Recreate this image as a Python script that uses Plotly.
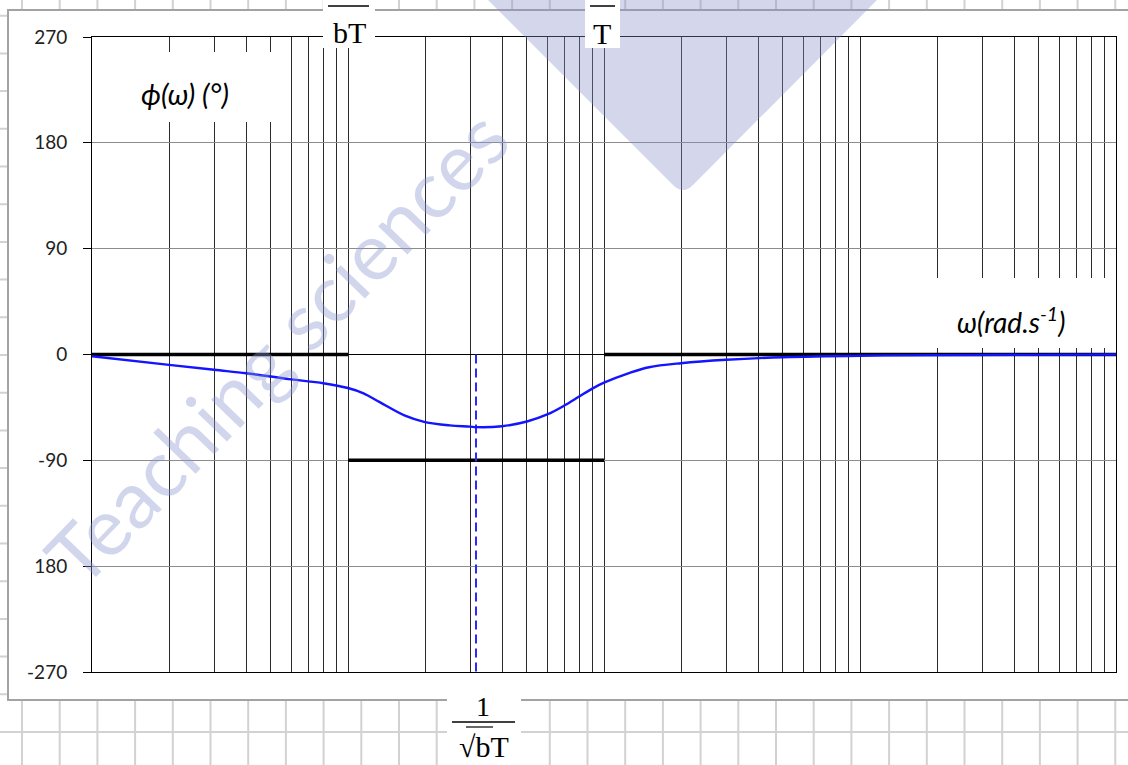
import math
import plotly.graph_objects as go

# Phase response of the correction network, read at selected pulsations (rad/s)
omega = [1, 2, 3, 4, 5, 6, 8, 10, 11.5, 13.3, 16.7, 20, 25, 30, 31.6, 40, 50, 60, 70, 80, 90,
         100, 126, 150, 200, 300, 500, 1000, 2000, 10000]
phase = [-1.5, -8.8, -13, -15.9, -18.7, -21.2, -24.4, -28.5, -33, -40.5, -52, -57.5, -60.3,
         -61.3, -61.8, -61, -57, -51, -43.4, -35.7, -29, -24, -15.6, -10.8, -7.4, -4.5, -2.3,
         -1, -0.5, 0]

# Break pulsations 1/bT and 1/T, and the asymptotic phase on each band
omega_bT = 10
omega_T = 100
asym_x = [1, omega_bT, None, omega_bT, omega_T, None, omega_T, 10000]
asym_y = [0, 0, None, -90, -90, None, 0, 0]
omega_m = math.sqrt(omega_bT * omega_T)

phase_ticks = [-270, -180, -90, 0, 90, 180, 270]
phase_labels = ["-270", "180", "-90", "0", "90", "180", "270"]

log_grid = [m * 10 ** k for k in range(4) for m in range(1, 10)] + [10000]

W, H = 1128, 765
L, R, T, B = 92, 12, 37, 93


def fx(px):
    return (px - L) / (W - L - R)


def fy(py):
    return (H - B - py) / (H - T - B)


fig = go.Figure()

fig.add_trace(go.Scatter(x=asym_x, y=asym_y, mode="lines",
                         line=dict(color="black", width=3.5),
                         hoverinfo="skip", showlegend=False))
fig.add_trace(go.Scatter(x=[omega_m, omega_m], y=[0, -270], mode="lines",
                         line=dict(color="#2a2aff", width=2, dash="9px,5px"),
                         hoverinfo="skip", showlegend=False))
fig.add_trace(go.Scatter(x=omega, y=phase, mode="lines",
                         line=dict(color="#1414ff", width=2.4, shape="spline", smoothing=1.0),
                         hoverinfo="skip", showlegend=False))

shapes = []
# spreadsheet cells behind the chart
for k in range(31):
    x = 22 + 37.7 * k
    shapes.append(dict(type="line", xref="paper", yref="paper", layer="below",
                       x0=fx(x), x1=fx(x), y0=fy(0), y1=fy(H),
                       line=dict(color="#d2d2d2", width=2)))
for k in range(-1, 21):
    y = 732 - 37.7 * k
    shapes.append(dict(type="line", xref="paper", yref="paper", layer="below",
                       x0=fx(0), x1=fx(W), y0=fy(y), y1=fy(y),
                       line=dict(color="#d2d2d2", width=2)))
# chart frame
shapes.append(dict(type="rect", xref="paper", yref="paper", layer="below",
                   x0=fx(8), x1=fx(1140), y0=fy(10), y1=fy(700),
                   fillcolor="white", line=dict(color="#a3a3a3", width=2)))

# logo watermark
dpath = "M {},{} L {},{} Q {},{} {},{} L {},{} Z".format(
    fx(485), fy(-3), fx(672), fy(184), fx(683), fy(196), fx(694), fy(184), fx(880), fy(-3))
shapes.append(dict(type="path", xref="paper", yref="paper", layer="above", path=dpath,
                   fillcolor="rgba(135,144,201,0.36)", line=dict(width=0)))


def white_box(x0, y0, x1, y1):
    shapes.append(dict(type="rect", xref="paper", yref="paper", layer="above",
                       x0=fx(x0), x1=fx(x1), y0=fy(y0), y1=fy(y1),
                       fillcolor="white", line=dict(width=0)))


def hline(x0, x1, y, w=1.5):
    shapes.append(dict(type="line", xref="paper", yref="paper", layer="above",
                       x0=fx(x0), x1=fx(x1), y0=fy(y), y1=fy(y),
                       line=dict(color="black", width=w)))


white_box(323, 0, 375, 48)
white_box(585, 0, 620, 48)
white_box(447, 698, 521, 765)
white_box(100, 52, 284, 122)
white_box(930, 278, 1112, 348)
hline(328, 369, 6)
hline(590, 615, 6)
hline(452, 515, 722)
hline(466, 493, 727, 1.2)

annotations = [
    dict(text="Teaching sciences", x=fx(276), y=fy(346), xref="paper", yref="paper",
         showarrow=False, textangle=-46,
         font=dict(family="Lato", size=80, color="rgba(140,152,210,0.40)")),
    dict(text="bT", x=fx(349), y=fy(32), font=dict(family="Liberation Serif", size=30)),
    dict(text="T", x=fx(602), y=fy(33), font=dict(family="Liberation Serif", size=30)),
    dict(text="1", x=fx(483), y=fy(706), font=dict(family="Liberation Serif", size=28)),
    dict(text="√bT", x=fx(484), y=fy(746), font=dict(family="Liberation Serif", size=30)),
    dict(text="<i>ϕ(ω) (°)</i>", x=fx(185), y=fy(93), font=dict(family="Lato", size=29)),
    dict(text="<i>ω(rad.s<sup>-1</sup>)</i>", x=fx(1011), y=fy(320),
         font=dict(family="Lato", size=28)),
]
for a in annotations:
    a.setdefault("xref", "paper")
    a.setdefault("yref", "paper")
    a.setdefault("showarrow", False)
    a.setdefault("xanchor", "center")
    a.setdefault("yanchor", "middle")
    a["font"].setdefault("color", "black")

fig.update_layout(
    width=W, height=H, autosize=False,
    margin=dict(l=L, r=R, t=T, b=B, pad=0),
    paper_bgcolor="white", plot_bgcolor="rgba(0,0,0,0)",
    shapes=shapes, annotations=annotations, showlegend=False,
    xaxis=dict(type="log", range=[0, 4], tickvals=log_grid, showticklabels=False,
               ticks="", showgrid=True, gridcolor="#2b2b2b", gridwidth=1,
               showline=True, mirror=True, linecolor="black", linewidth=1,
               zeroline=False),
    yaxis=dict(range=[-270, 270], tickvals=phase_ticks, ticktext=phase_labels,
               ticks="outside", ticklen=8, tickcolor="black", tickwidth=1,
               ticklabelstandoff=12,
               tickfont=dict(family="Lato", size=19, color="#222"),
               showgrid=True, gridcolor="#8c8c8c", gridwidth=1,
               showline=True, mirror=True, linecolor="black", linewidth=1,
               zeroline=True, zerolinecolor="black", zerolinewidth=1),
)

fig.write_html("out.html")
